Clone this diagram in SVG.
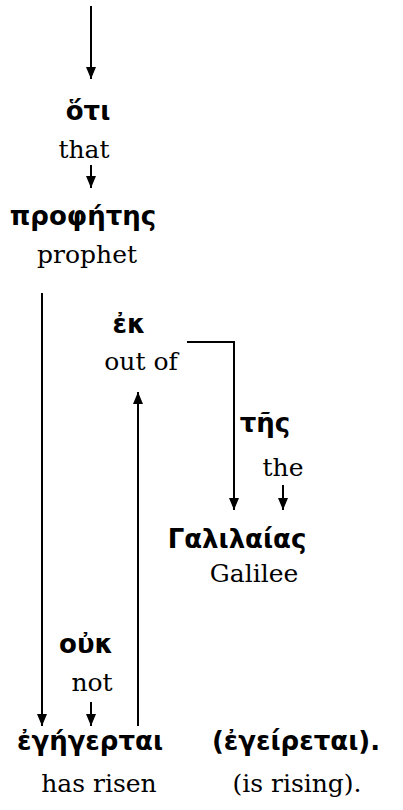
<svg xmlns="http://www.w3.org/2000/svg" width="403" height="810" viewBox="0 0 403 810">
<defs>
<marker id="ah" viewBox="0 0 12 10" refX="12" refY="5" markerWidth="12" markerHeight="10" markerUnits="userSpaceOnUse" orient="auto">
<path d="M0,0 L12,5 L0,10 Z" fill="#000"/>
</marker>
</defs>
<style>
.g{font-family:"DejaVu Sans","Noto Sans",sans-serif;font-weight:bold;font-size:26px;fill:#000;text-anchor:middle}
.e{font-family:'DejaVu Serif','Liberation Serif','Times New Roman',serif;font-size:25px;fill:#000;text-anchor:middle}
.c line,.c polyline{stroke:#000;stroke-width:2;fill:none}
</style>
<rect width="403" height="810" fill="#fff"/>
<g class="c" id="connectors">
<line x1="91" y1="6" x2="91" y2="79" marker-end="url(#ah)"/>
<line x1="91" y1="165" x2="91" y2="188" marker-end="url(#ah)"/>
<line x1="42" y1="293" x2="42" y2="726" marker-end="url(#ah)"/>
<line x1="138" y1="726" x2="138" y2="392" marker-end="url(#ah)"/>
<polyline points="187,342 234,342 234,510" marker-end="url(#ah)"/>
<line x1="283" y1="485" x2="283" y2="510" marker-end="url(#ah)"/>
<line x1="91" y1="702" x2="91" y2="726" marker-end="url(#ah)"/>
</g>
<g id="n-hoti"><text class="g" x="88" y="120">ὅτι</text><text class="e" x="84" y="158">that</text></g>
<g id="n-prophetes"><text class="g" x="83" y="225">προφήτης</text><text class="e" x="87" y="263">prophet</text></g>
<g id="n-ek"><text class="g" x="129" y="333">ἐκ</text><text class="e" x="141" y="370">out of</text></g>
<g id="n-tes"><text class="g" x="265" y="432">τῆς</text><text class="e" x="283" y="476">the</text></g>
<g id="n-galilaias"><text class="g" x="237" y="548">Γαλιλαίας</text><text class="e" x="254" y="582">Galilee</text></g>
<g id="n-ouk"><text class="g" x="86" y="653">οὐκ</text><text class="e" x="92" y="691">not</text></g>
<g id="n-egegertai"><text class="g" x="90" y="750">ἐγήγερται</text><text class="e" x="99" y="792">has risen</text></g>
<g id="n-egeiretai"><text class="g" x="296" y="750">(ἐγείρεται).</text><text class="e" x="297" y="792">(is rising).</text></g>
</svg>
